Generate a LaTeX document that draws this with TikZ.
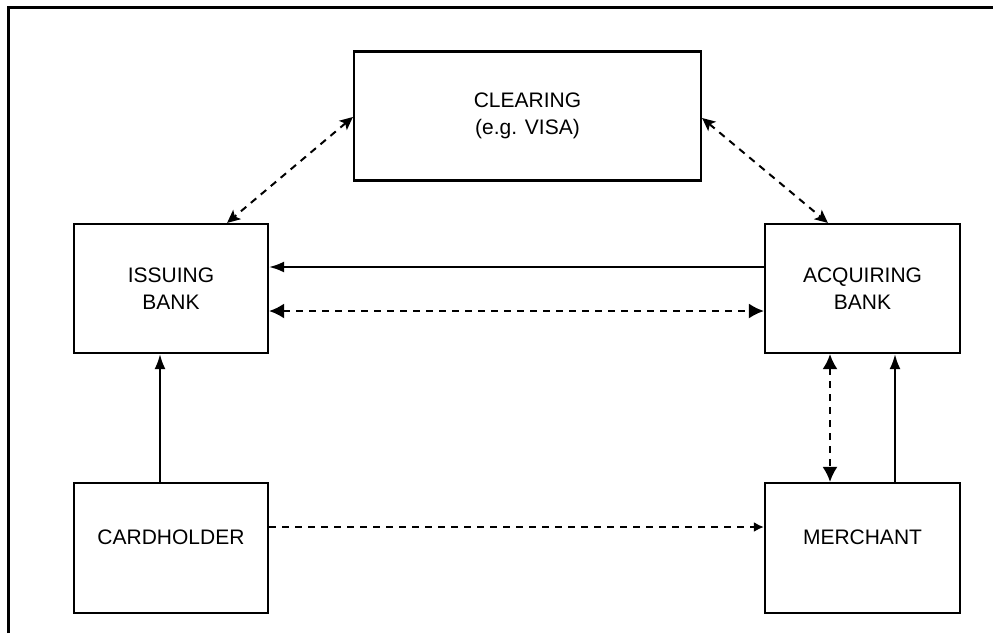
\documentclass[tikz,border=0pt]{standalone}
\usepackage{fontspec}
\setmainfont{Liberation Sans}
\usetikzlibrary{arrows.meta}
\begin{document}
\begin{tikzpicture}[x=1pt,y=-1pt,
  box/.style={draw,line width=2.2pt,rectangle,inner sep=0pt,align=center,
    font=\fontsize{21}{27}\selectfont},
  conn/.style={line width=2pt},
  dsh/.style={line width=2pt,dash pattern=on 7pt off 6pt},
  solidtip/.style={-{Latex[length=15pt,width=11pt]}},
  bigtip/.style={{Latex[length=15pt,width=15pt]}-{Latex[length=15pt,width=15pt]}},
  smalltip/.style={-{Latex[length=10pt,width=10pt]}},
  diagtip/.style={{Stealth[length=13pt,width=12pt,inset=3pt]}-{Stealth[length=13pt,width=12pt,inset=3pt]}}]
\useasboundingbox (0,0) rectangle (993,633);
% frame
\draw[line width=3pt] (8,633) -- (8,7) -- (993,7);
% boxes
\node[box,minimum width=347pt,minimum height=129pt] (clr) at (527.5,116) {CLEARING\\(e.g. VISA)};
\node[box,minimum width=194pt,minimum height=129pt] (iss) at (171,288.5) {ISSUING\\BANK};
\node[box,minimum width=195pt,minimum height=129pt] (acq) at (862.5,288.5) {ACQUIRING\\BANK};
\node[box,minimum width=194pt,minimum height=130pt] (crd) at (171,548) {CARDHOLDER\\[-6pt]~};
\node[box,minimum width=195pt,minimum height=130pt] (mer) at (862.5,548) {MERCHANT\\[-6pt]~};
% connectors
\draw[dsh,diagtip] ([yshift=-1pt]clr.west) -- ([xshift=-42pt]iss.north east);
\draw[dsh,diagtip] ([yshift=-2pt]clr.east) -- ([xshift=64pt]acq.north west);
\draw[conn,solidtip] ([yshift=21.5pt]acq.west) -- ([yshift=21.5pt]iss.east);
\draw[dsh,bigtip] ([yshift=-22.5pt]iss.east) -- ([yshift=-22.5pt]acq.west);
\draw[conn,solidtip] ([xshift=-11pt]crd.north) -- ([xshift=-11pt]iss.south);
\draw[dsh,smalltip] ([yshift=21pt]crd.east) -- ([yshift=21pt]mer.west);
\draw[dsh,bigtip] ([xshift=-32.5pt]acq.south) -- ([xshift=-32.5pt]mer.north);
\draw[conn,solidtip] ([xshift=32.5pt]mer.north) -- ([xshift=32.5pt]acq.south);
\end{tikzpicture}
\end{document}
